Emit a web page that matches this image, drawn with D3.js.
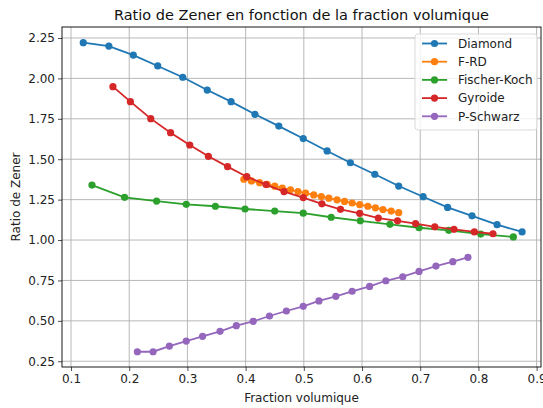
<!DOCTYPE html>
<html>
<head>
<meta charset="utf-8">
<script src="https://cdn.jsdelivr.net/npm/d3@7"></script>
<style>
  body { margin: 0; background: #fff; }
  svg { font-family: 'DejaVu Sans', sans-serif; }
</style>
</head>
<body>
<svg id="chart"></svg>
<script>
const width = 543;
const height = 408;
const margin = { top: 27, right: 2, bottom: 41, left: 62 };

const seriesNames = ['Diamond', 'F-RD', 'Fischer-Koch', 'Gyroide', 'P-Schwarz'];
const colors = ['#1f77b4', '#ff7f0e', '#2ca02c', '#d62728', '#9467bd'];

// fraction volumique / ratio de Zener
const diamondX = [0.121, 0.165, 0.207, 0.249, 0.292, 0.334, 0.375, 0.416, 0.457, 0.499, 0.540, 0.580, 0.622, 0.663, 0.705, 0.747, 0.789, 0.832, 0.875];
const diamondY = [2.221, 2.200, 2.144, 2.077, 2.007, 1.928, 1.856, 1.778, 1.705, 1.628, 1.551, 1.478, 1.407, 1.334, 1.268, 1.202, 1.150, 1.095, 1.050];

const frdX = [0.397, 0.410, 0.424, 0.437, 0.450, 0.463, 0.477, 0.490, 0.503, 0.517, 0.530, 0.543, 0.557, 0.570, 0.583, 0.596, 0.610, 0.623, 0.636, 0.650, 0.663];
const frdY = [1.376, 1.366, 1.355, 1.344, 1.333, 1.322, 1.311, 1.300, 1.290, 1.279, 1.269, 1.259, 1.249, 1.239, 1.229, 1.219, 1.209, 1.199, 1.189, 1.179, 1.169];

const fkX = [0.136, 0.192, 0.247, 0.298, 0.348, 0.399, 0.450, 0.499, 0.547, 0.597, 0.648, 0.698, 0.749, 0.804, 0.860];
const fkY = [1.340, 1.264, 1.241, 1.221, 1.209, 1.192, 1.179, 1.166, 1.141, 1.119, 1.097, 1.076, 1.060, 1.037, 1.019];

const gyroX = [0.172, 0.202, 0.237, 0.271, 0.304, 0.336, 0.369, 0.402, 0.435, 0.466, 0.499, 0.531, 0.563, 0.596, 0.628, 0.661, 0.692, 0.725, 0.758, 0.793, 0.825];
const gyroY = [1.949, 1.856, 1.751, 1.664, 1.588, 1.518, 1.454, 1.392, 1.343, 1.300, 1.263, 1.224, 1.190, 1.165, 1.136, 1.119, 1.102, 1.082, 1.066, 1.050, 1.039];

const pswX = [0.214, 0.241, 0.269, 0.298, 0.326, 0.356, 0.384, 0.413, 0.441, 0.470, 0.499, 0.526, 0.555, 0.583, 0.613, 0.641, 0.670, 0.698, 0.727, 0.756, 0.782];
const pswY = [0.309, 0.309, 0.344, 0.375, 0.404, 0.435, 0.470, 0.497, 0.530, 0.561, 0.590, 0.623, 0.652, 0.683, 0.713, 0.748, 0.773, 0.806, 0.839, 0.866, 0.893];

const xTicks = [0.1, 0.2, 0.3, 0.4, 0.5, 0.6, 0.7, 0.8, 0.9];
const yTicks = [0.25, 0.50, 0.75, 1.00, 1.25, 1.50, 1.75, 2.00, 2.25];

const series = [
    { name: seriesNames[0], xs: diamondX, ys: diamondY },
    { name: seriesNames[1], xs: frdX, ys: frdY },
    { name: seriesNames[2], xs: fkX, ys: fkY },
    { name: seriesNames[3], xs: gyroX, ys: gyroY },
    { name: seriesNames[4], xs: pswX, ys: pswY }
].map((s, i) => ({ name: s.name, color: colors[i], points: s.xs.map((x, j) => ({ x, y: s.ys[j] })) }));

const fontSize = 12;

const svg = d3.select('#chart')
    .attr('width', width)
    .attr('height', height);

const xScale = d3.scaleLinear()
    .domain([0.0845, 0.9075])
    .range([margin.left, width - margin.right]);

const yScale = d3.scaleLinear()
    .domain([0.2145, 2.318])
    .range([height - margin.bottom, margin.top]);

// Grid
svg.append('g')
    .selectAll('line.vgrid')
    .data(xTicks)
    .enter()
    .append('line')
    .attr('x1', d => xScale(d)).attr('x2', d => xScale(d))
    .attr('y1', margin.top).attr('y2', height - margin.bottom)
    .attr('stroke', '#b0b0b0')
    .attr('stroke-width', 0.9);

svg.append('g')
    .selectAll('line.hgrid')
    .data(yTicks)
    .enter()
    .append('line')
    .attr('x1', margin.left).attr('x2', width - margin.right)
    .attr('y1', d => yScale(d)).attr('y2', d => yScale(d))
    .attr('stroke', '#b0b0b0')
    .attr('stroke-width', 0.9);

// Axes
const xAxis = d3.axisBottom(xScale).tickValues(xTicks).tickFormat(d3.format('.1f')).tickSize(4).tickPadding(3);
const yAxis = d3.axisLeft(yScale).tickValues(yTicks).tickFormat(d3.format('.2f')).tickSize(4).tickPadding(3);

const gx = svg.append('g')
    .attr('transform', `translate(0,${height - margin.bottom})`)
    .call(xAxis);
const gy = svg.append('g')
    .attr('transform', `translate(${margin.left},0)`)
    .call(yAxis);

[gx, gy].forEach(g => {
    g.select('.domain').remove();
    g.selectAll('text').attr('font-size', fontSize).attr('font-family', 'DejaVu Sans').attr('fill', '#222');
    g.selectAll('line').attr('stroke', '#222').attr('stroke-width', 0.8);
});

// Lines and markers
const line = d3.line().x(d => xScale(d.x)).y(d => yScale(d.y));

const plot = svg.append('g');
series.forEach(s => {
    const g = plot.append('g');
    g.append('path')
        .datum(s.points)
        .attr('d', line)
        .attr('fill', 'none')
        .attr('stroke', s.color)
        .attr('stroke-width', 1.8);
    g.selectAll('circle')
        .data(s.points)
        .enter()
        .append('circle')
        .attr('cx', d => xScale(d.x))
        .attr('cy', d => yScale(d.y))
        .attr('r', 3.6)
        .attr('fill', s.color);
});

// Frame
svg.append('rect')
    .attr('x', margin.left)
    .attr('y', margin.top)
    .attr('width', width - margin.left - margin.right)
    .attr('height', height - margin.top - margin.bottom)
    .attr('fill', 'none')
    .attr('stroke', '#000')
    .attr('stroke-width', 0.9);

// Title and labels
svg.append('text')
    .attr('x', (margin.left + width - margin.right) / 2)
    .attr('y', 20)
    .attr('text-anchor', 'middle')
    .attr('font-size', 14.5)
    .attr('fill', '#111')
    .text('Ratio de Zener en fonction de la fraction volumique');

svg.append('text')
    .attr('x', (margin.left + width - margin.right) / 2)
    .attr('y', 402)
    .attr('text-anchor', 'middle')
    .attr('font-size', fontSize)
    .attr('fill', '#222')
    .text('Fraction volumique');

svg.append('text')
    .attr('transform', `translate(20,${(margin.top + height - margin.bottom) / 2}) rotate(-90)`)
    .attr('text-anchor', 'middle')
    .attr('font-size', fontSize)
    .attr('fill', '#222')
    .text('Ratio de Zener');

// Legend
const legend = svg.append('g').attr('transform', 'translate(415,34)');
legend.append('rect')
    .attr('width', 122)
    .attr('height', 96)
    .attr('rx', 3)
    .attr('fill', 'rgba(255,255,255,0.8)')
    .attr('stroke', '#d5d5d5')
    .attr('stroke-width', 0.9);

const items = legend.selectAll('g.item')
    .data(series)
    .enter()
    .append('g')
    .attr('transform', (d, i) => `translate(0,${9.5 + i * 18.2})`);
items.append('line')
    .attr('x1', 7).attr('x2', 32)
    .attr('stroke', d => d.color)
    .attr('stroke-width', 1.8);
items.append('circle')
    .attr('cx', 19.5)
    .attr('r', 3.6)
    .attr('fill', d => d.color);
items.append('text')
    .attr('x', 43)
    .attr('dy', '0.35em')
    .attr('font-size', fontSize)
    .attr('fill', '#222')
    .text(d => d.name);
</script>
</body>
</html>
